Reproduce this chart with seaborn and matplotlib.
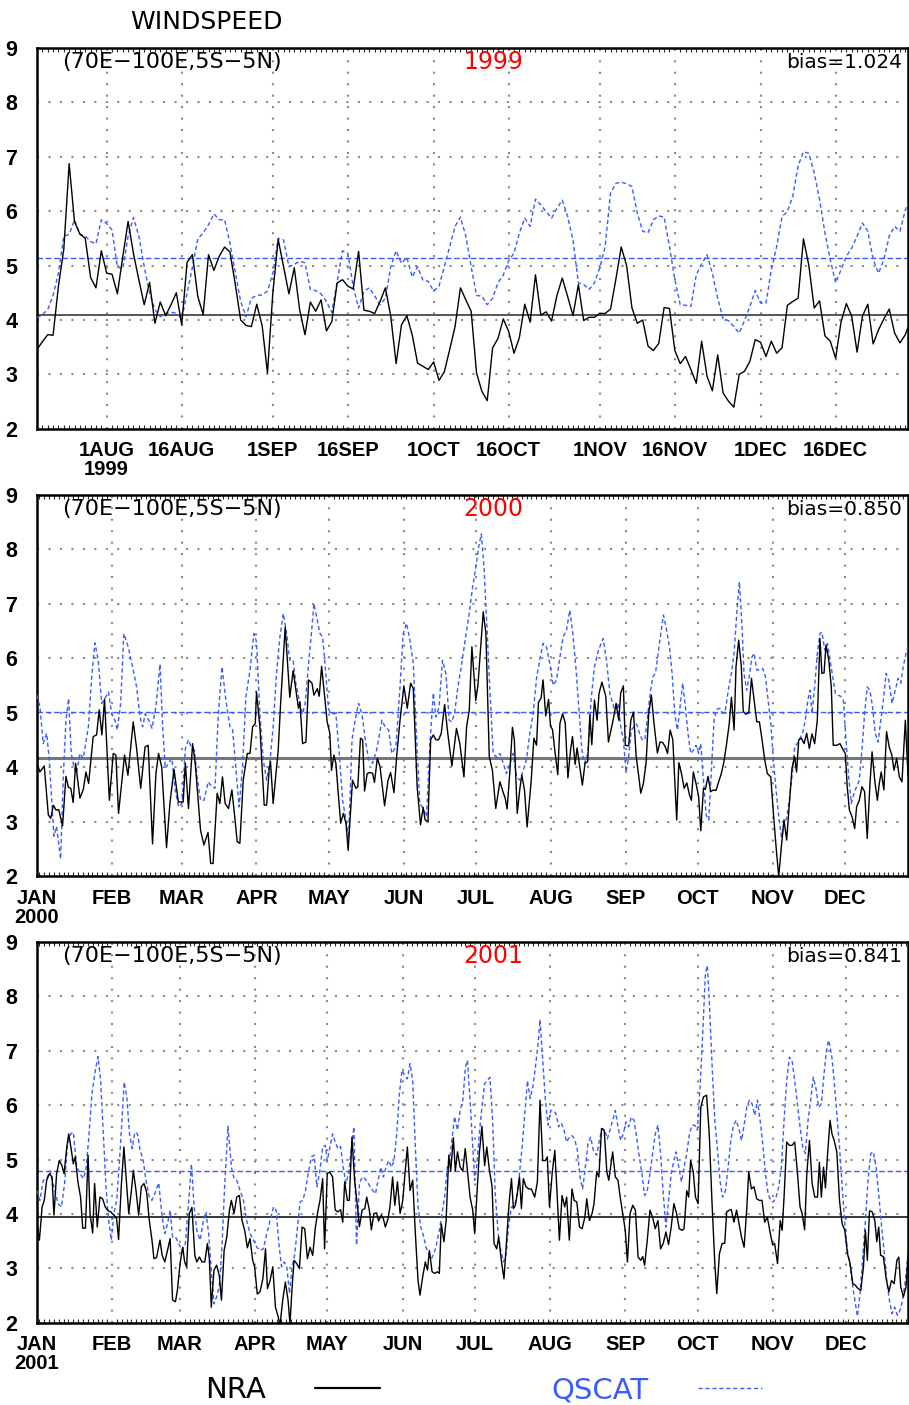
import matplotlib
matplotlib.use("Agg")
from matplotlib import pyplot as plt
from matplotlib import dates as mdates
from matplotlib import font_manager
import seaborn as sns
import pandas as pd

# ---- 1999 (daily from 19 Jul) ----
nra_1999 = [3.46, 3.60, 3.73, 3.72, 4.62, 5.30, 6.87, 5.80, 5.58, 5.50,
            4.78, 4.59, 5.27, 4.86, 4.84, 4.48, 5.16, 5.81, 5.22, 4.74,
            4.28, 4.69, 3.94, 4.33, 4.08, 4.28, 4.50, 3.91, 5.06, 5.20,
            4.43, 4.10, 5.20, 4.91, 5.17, 5.34, 5.25, 4.65, 4.00, 3.90,
            3.88, 4.29, 3.90, 3.03, 4.50, 5.48, 4.98, 4.48, 4.96, 4.19,
            3.73, 4.33, 4.16, 4.37, 3.80, 3.97, 4.68, 4.74, 4.62, 4.57,
            5.26, 4.18, 4.16, 4.12, 4.34, 4.59, 4.07, 3.20, 3.91, 4.08,
            3.73, 3.21, 3.15, 3.09, 3.23, 2.89, 3.05, 3.46, 3.88, 4.59,
            4.37, 4.16, 3.03, 2.69, 2.52, 3.49, 3.66, 4.02, 3.79, 3.39,
            3.68, 4.29, 3.96, 4.83, 4.09, 4.15, 3.98, 4.45, 4.77, 4.43,
            4.08, 4.65, 3.99, 4.05, 4.05, 4.12, 4.12, 4.20, 4.75, 5.34,
            5.00, 4.22, 3.94, 4.00, 3.52, 3.44, 3.57, 4.23, 4.21, 3.44,
            3.20, 3.33, 3.09, 2.84, 3.61, 2.97, 2.70, 3.36, 2.66, 2.51,
            2.40, 3.00, 3.06, 3.24, 3.64, 3.59, 3.33, 3.61, 3.39, 3.49,
            4.27, 4.34, 4.40, 5.49, 5.00, 4.22, 4.35, 3.71, 3.61, 3.30,
            3.96, 4.30, 4.07, 3.41, 4.07, 4.29, 3.56, 3.82, 4.02, 4.20,
            3.76, 3.58, 3.73, 4.00]
qscat_1999 = [4.04, 4.10, 4.19, 4.45, 4.86, 5.54, 5.57, 5.84, 5.57, 5.54,
              5.44, 5.40, 5.84, 5.77, 5.65, 4.97, 4.94, 5.54, 5.88, 5.54,
              4.98, 4.50, 4.19, 4.06, 4.12, 4.14, 4.13, 4.02, 4.50, 4.97,
              5.49, 5.60, 5.75, 5.95, 5.84, 5.84, 5.41, 4.87, 4.34, 4.06,
              4.40, 4.45, 4.46, 4.53, 4.86, 5.50, 5.47, 4.98, 5.02, 5.08,
              5.05, 4.56, 4.54, 4.48, 4.34, 4.14, 4.70, 5.27, 5.22, 4.61,
              4.22, 4.53, 4.59, 4.44, 4.28, 4.40, 4.98, 5.27, 5.04, 5.15,
              4.79, 4.98, 4.73, 4.71, 4.53, 4.62, 4.98, 5.35, 5.72, 5.89,
              5.54, 4.98, 4.45, 4.44, 4.28, 4.40, 4.68, 4.83, 5.08, 5.23,
              5.60, 5.87, 5.72, 6.22, 6.11, 5.99, 5.87, 6.05, 6.20, 5.90,
              5.47, 4.68, 4.65, 4.56, 4.68, 4.96, 5.35, 6.33, 6.51, 6.53,
              6.50, 6.45, 5.96, 5.63, 5.60, 5.84, 5.91, 5.89, 5.35, 4.74,
              4.28, 4.27, 4.25, 4.83, 5.03, 5.20, 4.86, 4.40, 4.02, 3.99,
              3.88, 3.76, 3.99, 4.25, 4.54, 4.31, 4.31, 4.92, 5.35, 5.90,
              5.99, 6.27, 6.83, 7.09, 7.06, 6.70, 6.21, 5.60, 5.11, 4.68,
              4.92, 5.17, 5.32, 5.54, 5.78, 5.63, 5.11, 4.86, 5.11, 5.54,
              5.72, 5.63, 6.02, 6.24]

# ---- 2000 (day of year, value) ----
nra_2000 = [(0,4.07),(1.2,3.91),(3,4.02),(4.7,3.12),(5.7,3.06),(6.8,3.30),(7.9,3.21),(9,3.22),(10.6,2.92),(12,3.83),
    (13,3.63),(14,3.61),(15,3.35),(16,4.07),(17.8,3.43),(19.2,3.59),(20.3,3.91),(21.4,3.70),(23.3,4.56),(24.7,4.59),
    (25.8,5.05),(26.9,4.59),(28,5.25),(30,3.39),(31.6,4.25),(32.7,4.22),(33.8,3.15),(36.3,4.22),(37.7,3.85),(39.9,4.83),
    (41.3,4.34),(43,3.61),(44.8,4.37),(46.1,4.40),(47.9,2.59),(49.3,3.88),(50.4,4.25),(51.7,4.0),(53.7,2.52),(55.1,3.33),
    (56.8,3.96),(58.6,3.36),(60.6,3.36),(61.5,4.07),(62.8,3.24),(64.5,4.43),(65.6,4.07),(67.8,2.84),(69.2,2.57),(70.9,2.80),
    (72,2.23),(73,2.23),(74.7,3.52),(75.8,3.33),(76.9,3.82),(78,3.33),(79.4,3.24),(80.8,3.58),(81.9,3.12),(83,2.63),
    (84.1,2.60),(85.5,3.76),(87.2,4.25),(88.3,4.25),(89.4,4.74),(90.5,4.80),(91,5.38),(92.4,4.74),(94.2,3.30),(95.2,3.30),
    (96.3,3.98),(96.8,4.10),(97.9,3.33),(100,4.31),(101,5.17),(102.9,6.57),(104.8,5.28),(106.2,5.77),(108.4,5.08),(109,5.2),
    (110.1,4.43),(111.5,4.46),(112.6,5.60),(114,5.54),(114.8,5.32),(116.2,5.44),(117,5.30),(118,5.85),(120.3,4.83),(121.4,4.62),
    (122.1,3.94),(123.1,4.22),(123.9,4.07),(125.9,2.97),(127,3.15),(128.1,2.97),(129,2.47),(130.8,3.76),(132.2,3.61),(133,3.64),
    (134.1,4.53),(135,4.50),(135.8,3.56),(136.9,3.88),(138,3.90),(139.1,3.89),(139.9,3.72),(141.1,4.16),(142.2,4.01),(144.1,3.29),
    (145.5,3.75),(146.6,3.90),(148,3.53),(149.1,4.19),(150.5,4.86),(152.1,5.49),(153.5,5.08),(154.9,5.54),(156,5.44),(157.6,3.64),
    (159,2.94),(160.1,3.26),(160.9,3.03),(162.1,3.00),(163.2,4.50),(164.3,4.59),(165.4,4.50),(166.5,4.50),(167.6,4.62),(169,5.15),
    (170.3,4.62),(172,4.02),(173.9,4.71),(175.3,4.43),(177,3.82),(178.1,4.74),(179.2,5.04),(180.3,6.21),(181.9,5.22),(182.8,5.50),
    (185,6.85),(186.1,6.46),(187.5,4.19),(188.8,3.94),(190.2,3.24),(191.9,3.73),(193.3,3.53),(194.1,3.43),(194.9,3.23),(196,3.89),
    (197.1,4.73),(197.9,4.50),(199.1,3.15),(200.2,3.61),(201,3.85),(202.1,3.58),(203.2,2.90),(204.9,3.76),(206,4.53),(207.1,4.40),
    (207.9,5.19),(209,5.27),(209.8,5.60),(210.9,4.94),(212.1,5.24),(212.9,4.75),(213.7,4.69),(214.8,4.26),(215.9,3.86),(216.8,4.80),
    (217.9,4.98),(219,4.81),(220.1,3.80),(221.2,4.31),(222,4.56),(223.1,4.05),(223.9,4.35),(225,4.01),(226.1,3.67),(227.2,4.07),
    (228.3,4.10),(229.2,4.96),(230,4.41),(231.1,5.23),(232.2,4.86),(233,5.35),(234.2,5.56),(235.8,5.30),(236.9,4.46),(238.7,4.83),
    (240.1,5.17),(241.2,4.86),(242,5.36),(243.1,5.49),(243.9,4.40),(245.3,4.39),(246.2,4.86),(247.3,5.01),(248.4,4.20),(249.5,3.82),
    (250.3,3.52),(251.4,3.70),(252.5,4.07),(253.6,4.98),(254.7,5.32),(255.8,4.80),(257.2,4.26),(258.3,4.46),(259.4,4.45),(260.5,4.37),
    (261.4,4.25),(262.5,4.68),(263.6,4.50),(265.2,3.03),(266.1,4.08),(267.2,3.88),(268.3,3.61),(269.4,3.71),(270.5,3.49),(271.3,3.39),
    (272.1,3.91),(273.2,3.70),(274.3,3.46),(275.2,2.83),(276.3,3.61),(277.1,3.59),(278.2,3.83),(279.3,3.55),(280.4,3.58),(281.5,3.57),
    (282.6,3.73),(283.7,3.88),(284.8,4.10),(285.9,4.43),(287,4.80),(287.9,5.28),(289,4.68),(289.8,5.84),(290.9,6.33),(292,5.84),
    (292.8,5.02),(293.9,4.97),(295.1,5.00),(296.2,5.63),(297.3,5.23),(298.4,4.83),(299.5,4.83),(300.6,4.50),(301.7,4.13),(302.8,3.88),
    (304.2,3.82),(305.3,3.15),(306.4,2.54),(307.5,1.99),(308.6,2.54),(309.7,3.03),(310.8,2.66),(311.9,3.33),(313,3.98),(314.1,4.19),
    (314.9,3.91),(315.8,4.50),(316.9,4.53),(318,4.43),(319.1,4.62),(320.2,4.34),(321.3,4.61),(322.4,4.43),(323.5,4.86),(324.6,6.36),
    (325.4,5.72),(326.3,5.73),(327.1,6.24),(328.2,5.99),(329.3,5.47),(330.1,4.40),(331.5,4.40),(332.9,4.43),(334.3,4.31),(335.1,4.25),
    (335.9,3.64),(336.8,3.21),(337.9,3.09),(339,2.87),(339.8,3.27),(340.9,3.39),(342,3.64),(343.1,3.55),(344.2,2.69),(345.3,3.67),
    (346.2,4.28),(347.3,3.76),(348.4,3.39),(349.2,3.70),(350,3.91),(351.1,3.58),(352.2,4.65),(353.3,4.37),(354.4,4.22),(355.3,3.94),
    (356.4,4.16),(357.5,3.82),(358.6,3.73),(360,4.86),(361.1,3.85),(361.5,3.88)]
qscat_2000 = [(0,5.32),(1.2,5.11),(2.6,4.43),(4,4.62),(5.1,4.13),(7,2.73),(8.1,2.91),(9.8,2.31),(10.9,3.82),(12,4.86),
    (13.1,5.26),(14.2,4.25),(15.3,4.01),(16.4,3.88),(17.8,4.25),(19.2,4.16),(21.3,4.74),(22.7,5.66),(24,6.28),(25.4,5.96),
    (26.8,5.17),(28.2,5.26),(29.6,5.38),(31,4.98),(32.3,4.86),(33.3,4.68),(34.7,5.17),(36,6.45),(37.8,6.21),(39.9,5.78),
    (41.3,5.47),(42.7,4.92),(43.8,4.74),(44.9,4.98),(46.3,4.86),(47.7,4.71),(49.3,5.11),(51,5.89),(52.1,4.74),(53.2,3.98),
    (54.6,4.07),(55.9,4.16),(57.3,3.58),(58.7,3.27),(60.1,3.33),(61.5,4.34),(62.8,4.50),(63.9,4.37),(65.3,4.31),(66.4,3.82),
    (67.8,3.39),(69.2,3.39),(71,3.73),(72.4,3.64),(73.8,3.61),(75.1,4.92),(76.7,5.84),(78.3,5.23),(80,4.74),(81.1,4.68),
    (82.5,3.94),(83.8,3.27),(85.2,4.01),(86.6,5.29),(88.3,5.78),(89.9,6.45),(91,6.30),(92.4,4.98),(93.8,4.13),(95.2,3.76),
    (96.5,4.07),(97.9,4.74),(99.3,5.72),(100.7,6.39),(102.1,6.82),(103.5,6.45),(104.8,5.96),(106.2,5.96),(107.3,5.54),(108.7,5.23),
    (110.1,4.98),(111.2,5.17),(112.6,5.90),(114,6.57),(114.8,7.00),(116.2,6.70),(117.3,6.45),(118.4,6.39),(119.5,5.84),(120.9,5.05),
    (122.3,4.98),(123.9,4.98),(125.3,4.25),(126.7,3.39),(128.1,3.03),(129.2,2.69),(130.6,4.50),(131.9,4.86),(133.3,5.17),(134.7,4.98),
    (136.1,4.50),(137.5,4.13),(139.1,4.07),(140.8,4.31),(143,4.86),(144.4,4.73),(145.8,4.68),(147.1,4.25),(148.8,4.37),(150.5,5.47),
    (151.8,6.45),(153.2,6.64),(154.6,6.33),(156,5.90),(157.4,4.50),(158.7,3.33),(160.1,3.24),(161.5,3.09),(162.9,4.43),(164.3,5.36),
    (165.4,4.92),(166.7,5.11),(168.1,5.96),(169.5,5.72),(170.9,4.86),(172,4.83),(173.1,4.98),(174.5,5.47),(175.9,5.84),(177.5,6.33),
    (179.2,6.82),(180.6,7.31),(181.9,7.65),(183.1,8.04),(184.2,8.28),(185.3,7.68),(186.4,6.70),(187.7,5.47),(189.1,4.25),(190.5,4.18),
    (191.9,4.25),(193.3,4.07),(194.6,3.88),(196,4.04),(197.4,4.25),(198.8,3.82),(200.2,3.76),(201.6,3.94),(202.9,4.13),(204.3,4.62),
    (205.7,4.98),(207.1,5.63),(208.5,5.99),(209.8,6.27),(211.2,6.21),(212.6,5.90),(214,5.50),(215.4,5.60),(216.7,5.99),(218.1,6.39),
    (219.5,6.51),(220.9,6.88),(222.3,6.39),(223.6,5.72),(224.8,4.98),(225.9,4.31),(227,4.07),(228.4,4.25),(229.7,5.23),(231.1,5.84),
    (232.8,6.15),(234.7,6.36),(236.1,5.96),(237.5,5.35),(238.7,5.17),(239.8,4.98),(240.9,5.17),(242,4.74),(243.1,4.50),(244.2,3.91),
    (245.3,4.19),(246.4,4.68),(247.5,4.74),(248.6,4.79),(249.8,4.62),(250.9,4.50),(252,4.50),(253.1,4.92),(254.2,5.35),(255.3,5.66),
    (256.4,5.72),(257.5,6.09),(258.6,6.45),(259.7,6.79),(260.8,6.57),(262.2,6.21),(263.3,5.72),(264.4,4.98),(265.5,4.68),(266.6,5.11),
    (267.7,5.54),(268.8,5.11),(269.9,4.62),(271,4.25),(272.1,4.31),(273.2,4.40),(274.3,4.25),(275.2,4.43),(276.3,3.76),(277.4,3.12),
    (278.5,3.03),(279.6,3.94),(280.7,4.86),(281.8,5.06),(283.2,5.08),(284.3,4.98),(285.4,5.05),(286.8,5.47),(287.9,5.72),(289,6.09),
    (290.1,6.82),(291.2,7.40),(292.3,6.57),(293.1,5.72),(294.2,5.41),(295.3,5.66),(296.4,6.02),(297.3,6.09),(298.4,5.78),(299.8,5.79),
    (300.9,5.81),(302,5.66),(303.1,5.23),(304.2,4.80),(305.3,4.13),(306.4,3.58),(307.5,3.09),(308.6,2.72),(309.7,2.97),(310.8,3.06),
    (311.9,3.39),(313,3.82),(314.1,4.37),(315.2,4.43),(316.3,4.53),(317.4,4.62),(318.5,4.86),(319.6,5.23),(320.5,5.41),(321.3,4.98),
    (322.4,5.47),(323.5,6.09),(324.6,6.45),(325.4,6.48),(326.6,6.15),(327.7,6.27),(328.8,5.96),(329.9,5.66),(331,5.35),(332.1,5.32),
    (333.2,5.30),(334.3,5.23),(335.4,4.50),(336.5,3.82),(337.6,3.33),(338.7,3.52),(339.8,3.64),(340.9,3.76),(342,4.31),(343.1,4.98),
    (344.2,5.47),(345.3,5.41),(346.4,5.11),(347.5,4.62),(348.7,4.46),(349.8,4.86),(350.9,5.23),(352,5.72),(353.1,5.60),(354.5,5.17),
    (355.8,5.41),(357,5.63),(358.1,5.54),(359.1,5.84),(360.3,6.09),(361.5,6.27)]

# ---- 2001 (day of year, value) ----
nra_2001 = [(0,3.82),(1,3.52),(2.1,4.13),(3,4.25),(4,4.62),(5.1,4.74),(6.2,4.68),(7,3.98),(8.1,4.74),(9.2,4.98),
    (10.3,4.89),(11.2,4.74),(12.3,5.23),(13.1,5.47),(14.2,5.17),(15,4.92),(15.8,5.05),(16.9,4.59),(18,4.31),(18.9,3.74),
    (20,3.74),(21.1,5.08),(21.9,4.01),(23,3.65),(23.8,4.56),(24.9,3.76),(26,4.31),(27.1,4.28),(28.2,4.13),(29.3,4.06),
    (30.4,4.04),(31.8,3.98),(32.9,3.91),(33.7,3.53),(34.8,4.50),(35.9,5.23),(37.1,4.50),(37.9,4.01),(39,4.43),(39.8,4.80),
    (40.9,4.43),(42,3.98),(43.1,4.50),(44.2,4.56),(45.3,4.40),(46.4,3.88),(47.5,3.52),(48.3,3.18),(49.4,3.20),(50.8,3.52),
    (51.7,3.24),(52.8,3.12),(53.9,3.33),(55,3.55),(56,2.42),(57.2,2.39),(58,2.60),(59.1,3.09),(60.2,3.39),(61,3.12),
    (61.8,3.03),(62.9,4.01),(64,4.12),(65.2,3.24),(66,3.12),(67.1,3.21),(68.2,3.12),(69.3,3.12),(70.4,3.46),(71.2,3.18),
    (72,2.29),(73.1,2.97),(74.2,3.06),(75.3,2.87),(76.2,2.42),(77.3,3.33),(78.4,3.58),(79.5,4.07),(80.3,4.25),(81.4,4.01),
    (82.5,4.31),(83.6,4.34),(84.7,3.88),(85.8,3.70),(86.9,3.38),(88,3.55),(89.1,3.15),(89.9,3.03),(91,2.53),(92.1,2.57),
    (93.3,2.81),(94.4,3.36),(95.2,2.63),(96.3,2.78),(97.4,3.03),(98.5,2.29),(99.6,2.12),(100.4,1.96),(101.5,2.42),(102.6,2.75),
    (103.7,2.42),(104.5,1.99),(105.4,2.66),(106.2,3.15),(107.3,3.09),(108.4,3.00),(109.5,3.76),(110.6,3.73),(111.7,3.18),(112.8,3.39),
    (113.9,3.24),(115,3.76),(116.1,4.07),(116.9,4.25),(118,4.65),(118.8,3.36),(119.9,4.74),(121,4.77),(122.1,4.68),(123.2,4.07),
    (124.3,4.04),(125.4,4.08),(126.3,3.85),(127.1,4.59),(128.2,4.25),(129,4.25),(130.1,5.41),(131.2,4.62),(132.1,4.25),(133.2,3.77),
    (134.3,4.07),(135.4,4.10),(136.2,4.31),(137.3,4.07),(138.1,3.71),(139.2,4.01),(140.3,4.02),(141.1,3.87),(142.2,3.98),(143.1,3.91),
    (143.9,3.76),(145,3.91),(145.8,4.13),(146.9,4.68),(147.8,4.16),(148.9,4.59),(150,4.01),(151.1,4.25),(151.9,4.68),(153,5.23),
    (154.1,4.43),(155.2,4.62),(156.3,3.64),(157.4,2.78),(158.2,2.51),(159.3,2.84),(160.4,3.12),(161.3,2.97),(162.1,3.33),(163.2,2.94),
    (164.3,2.91),(165.4,2.94),(166.2,2.91),(167,3.82),(168.1,3.49),(169,3.88),(170.1,5.08),(170.9,4.79),(172,5.40),(172.8,4.79),
    (173.7,5.14),(174.8,4.86),(175.9,4.79),(176.9,5.20),(177.8,4.80),(178.9,4.31),(180,4.07),(180.8,3.64),(181.6,4.25),(182.7,5.11),
    (183.8,5.61),(184.9,4.89),(185.8,5.23),(186.9,4.80),(188,4.50),(188.8,3.46),(189.9,3.36),(190.7,3.58),(191.8,3.15),(192.9,2.81),
    (194,3.52),(195.1,4.25),(196,4.65),(196.8,4.10),(197.6,4.16),(198.4,4.37),(199.3,4.68),(200.1,4.10),(200.9,4.65),(202,4.50),
    (203.1,4.46),(204.2,4.46),(205.6,4.31),(206.7,4.59),(207.8,6.09),(208.9,4.98),(210,4.98),(210.8,5.05),(211.7,4.13),(212.8,4.74),
    (213.9,5.17),(214.7,4.50),(215.8,3.52),(216.9,4.34),(218,4.13),(218.8,4.31),(219.9,3.52),(221,4.46),(221.9,4.25),(223,4.22),
    (224.1,3.76),(225.2,3.73),(226.3,3.94),(227.1,4.28),(228.2,3.88),(229.3,4.01),(230.1,4.19),(231.2,4.77),(232.1,4.68),(233.2,5.57),
    (234.3,5.54),(235.4,4.77),(236.2,4.62),(237.8,5.14),(238.9,4.68),(240,4.62),(241.1,4.25),(242.2,3.94),(243,3.70),(243.9,3.12),
    (245,4.01),(246.1,4.16),(247.2,4.07),(248.3,3.21),(249.4,3.15),(250.2,3.22),(251,3.06),(252.1,3.52),(253.2,4.07),(254.3,3.94),
    (255.4,3.73),(256.5,3.88),(257.6,3.36),(258.7,3.46),(259.8,3.67),(260.9,3.44),(262,3.77),(263.1,4.19),(264.2,4.01),(265.3,3.73),
    (266.5,3.70),(267.3,3.73),(268.4,4.43),(269.2,4.31),(270,4.98),(271.1,4.77),(272,4.31),(273.1,4.19),(274.2,5.96),(275.3,6.15),
    (276.6,6.18),(277.7,5.47),(278.8,4.25),(280,3.09),(280.8,2.54),(281.9,3.27),(283,3.46),(284.1,3.46),(284.9,4.04),(286,4.07),
    (286.8,4.08),(287.9,3.85),(289,4.07),(289.9,3.85),(291,3.58),(292.1,3.39),(293.2,4.10),(294,4.77),(295.1,4.46),(296.2,4.50),
    (297.3,4.28),(298.4,4.25),(299.5,4.25),(300.6,3.85),(301.7,3.94),(302.8,3.67),(303.9,3.43),(304.7,3.46),(305.9,3.09),(307,3.88),
    (307.8,3.70),(308.6,4.31),(309.7,5.32),(310.8,5.26),(311.9,5.26),(313,5.32),(314.1,4.77),(315.2,4.13),(316,4.02),(317.1,3.71),
    (318,4.74),(319.1,5.35),(320.2,4.56),(321.3,4.31),(322.4,4.31),(323.2,4.95),(324,4.31),(324.9,4.86),(325.7,4.48),(326.5,5.05),
    (327.6,5.72),(328.4,5.47),(329.3,5.35),(330.4,5.14),(331.5,4.25),(332.6,3.82),(333.7,3.70),(334.8,3.27),(335.9,3.09),(337,2.72),
    (338.1,2.69),(339.2,2.63),(340.3,2.60),(341.4,3.03),(342.2,3.70),(343,3.15),(343.9,4.06),(345,4.04),(346.1,3.88),(346.9,3.49),
    (347.7,3.76),(348.5,3.24),(349.6,3.22),(350.8,2.81),(351.9,2.57),(353,2.78),(354.1,2.72),(355.2,3.15),(356,3.21),(356.8,2.66),
    (357.9,2.48),(359,2.66),(360.2,3.49)]
qscat_2001 = [(0,4.43),(1.2,4.25),(2.6,4.62),(4,4.65),(5.4,4.79),(7,4.50),(8.7,4.19),(10.1,4.13),(11.4,4.56),(12.5,5.23),
    (13.9,5.47),(15,5.50),(16.4,4.86),(17.8,4.74),(19.1,4.65),(20.2,4.80),(21.3,5.35),(22.7,6.21),(24.1,6.64),(25.2,6.89),
    (26.3,6.45),(27.4,5.47),(28.5,4.50),(29.6,3.88),(30.7,3.52),(31.8,4.01),(32.9,4.25),(34,4.92),(35.1,5.72),(36,6.42),
    (37.1,6.15),(38.2,5.47),(39.3,5.20),(40.4,5.50),(41.5,5.47),(42.6,5.17),(43.9,4.98),(45,4.62),(46.4,4.31),(47.5,4.25),
    (48.9,4.40),(50.3,4.57),(51.7,3.94),(52.8,3.64),(53.9,3.82),(55,4.07),(56,3.58),(57.2,3.58),(58.5,3.46),(59.9,3.33),
    (61.3,3.46),(62.7,4.25),(63.8,4.92),(64.9,4.13),(66,3.70),(67.4,3.52),(68.7,3.88),(69.8,4.04),(70.9,3.64),(72,2.97),
    (73.1,2.35),(74.2,2.48),(75.3,2.66),(76.4,3.39),(77.5,4.50),(78.9,5.61),(80.3,4.86),(81.4,4.65),(82.5,4.62),(83.9,4.43),
    (85.3,4.25),(86.6,3.88),(88,3.64),(89.4,3.52),(90.8,3.39),(92.1,3.33),(93.5,3.36),(94.9,3.64),(96.3,3.88),(97.7,4.13),
    (98.8,4.07),(99.9,3.46),(101,3.03),(102.1,3.12),(103.2,3.03),(104.3,2.54),(105.4,3.03),(106.5,3.27),(107.6,3.76),(108.7,4.22),
    (109.8,4.25),(110.9,4.43),(112,4.74),(113.4,5.05),(114.5,5.08),(115.6,4.50),(116.7,4.74),(118,5.23),(119.1,5.26),(119.9,4.98),
    (121,5.23),(122.1,5.47),(123.2,5.32),(124.3,5.20),(125.4,5.24),(126.5,4.86),(127.6,4.56),(128.7,4.74),(129.8,5.17),(130.9,5.60),
    (132,3.43),(133.2,4.56),(134.3,4.68),(135.4,4.65),(136.5,4.59),(137.6,4.50),(138.7,4.43),(139.8,4.37),(140.9,4.62),(142,4.86),
    (143.1,4.68),(144.2,4.86),(145.3,4.98),(146.4,4.86),(147.5,4.98),(148.6,5.47),(149.7,6.21),(150.8,6.64),(151.9,6.54),(153,6.48),
    (154.1,6.76),(155.2,6.45),(156.3,5.23),(157.4,4.13),(158.5,3.76),(159.6,3.61),(160.7,3.39),(161.8,3.27),(162.9,3.18),(164,3.27),
    (165.1,3.46),(166.2,3.70),(167.3,4.01),(168.4,4.31),(169.5,4.86),(170.6,5.05),(171.7,5.47),(172.5,5.79),(173.7,5.54),(174.8,5.90),
    (175.9,6.09),(177,6.70),(177.8,6.82),(178.9,6.09),(180,5.23),(180.8,4.62),(181.6,4.86),(182.7,5.47),(183.8,5.96),(184.9,6.39),
    (186,6.45),(187.1,6.51),(188.2,5.72),(189.3,4.37),(190.5,3.64),(191.6,3.33),(192.7,3.12),(193.8,3.27),(194.9,3.82),(196,4.13),
    (197.1,4.13),(198.2,4.31),(199.3,4.74),(200.4,5.23),(201.5,5.84),(202.6,6.45),(203.7,6.12),(204.8,6.33),(205.9,6.70),(207,7.13),
    (207.8,7.57),(208.9,6.82),(210,6.09),(211.1,5.63),(212.2,5.90),(213.3,5.90),(214.4,5.84),(215.5,5.60),(216.6,5.67),(217.7,5.54),
    (218.8,5.32),(219.9,5.41),(221,5.44),(222.1,5.38),(223.2,5.17),(224.3,4.68),(225.4,4.46),(226.5,4.86),(227.6,5.29),(228.7,5.41),
    (229.8,5.17),(231.2,5.08),(232.3,5.35),(233.4,5.57),(234.5,5.54),(235.6,5.38),(236.7,5.54),(237.8,5.72),(238.9,5.90),(240,5.60),
    (241.1,5.35),(242.2,5.47),(243.3,5.69),(244.4,5.60),(245.5,5.78),(246.6,5.72),(247.7,5.41),(248.8,5.05),(249.9,4.74),(251,4.34),
    (252.1,4.43),(253.2,4.74),(254.3,5.11),(255.4,5.47),(256.5,5.63),(257.6,5.11),(258.7,4.37),(259.8,3.76),(260.9,4.25),(262,4.74),
    (263.1,4.98),(264,5.14),(265.1,4.86),(266.2,4.59),(267.3,4.86),(268.4,5.11),(269.5,5.47),(270.6,5.63),(271.7,5.63),(272.8,5.54),
    (273.9,6.33),(275,7.31),(276.1,8.41),(276.9,8.56),(277.7,7.92),(278.9,6.70),(280,5.72),(281.1,5.17),(282.1,4.62),(283.2,4.31),
    (284.4,4.43),(285.5,4.86),(286.6,5.35),(287.7,5.63),(288.8,5.72),(289.9,5.57),(291,5.35),(292.1,5.63),(293.2,5.96),(294.3,6.09),
    (295.4,6.02),(296.5,5.81),(297.6,6.09),(298.7,5.72),(299.8,5.29),(300.9,4.74),(302,4.37),(303.1,4.25),(304.2,4.22),(305.3,4.31),
    (306.4,4.50),(307.5,4.86),(308.6,5.72),(309.7,6.45),(310.8,6.88),(311.9,6.82),(313,6.45),(314.1,6.02),(315.2,5.60),(316.3,5.23),
    (317.4,5.11),(318.5,5.72),(319.6,6.09),(320.7,6.51),(321.8,6.30),(322.9,5.96),(324,6.02),(325.1,6.57),(326.2,7.03),(327,7.19),
    (328.2,6.94),(329.3,6.45),(330.4,5.84),(331.5,5.23),(332.6,4.50),(333.8,3.76),(334.8,3.33),(335.9,3.03),(337,2.66),(338.1,2.35),
    (338.9,2.12),(340,2.54),(341.1,3.21),(342.2,3.88),(343.3,4.62),(344.4,5.11),(345.5,5.14),(346.6,4.86),(347.7,4.37),(348.8,3.82),
    (349.9,3.33),(351,2.78),(352.1,2.42),(353.2,2.17),(354.3,2.29),(355.4,2.14),(356.5,2.23),(357.6,2.42),(358.7,2.78),(359.8,3.27),
    (360.2,3.49)]

# 期間平均とバイアス
years = ["1999", "2000", "2001"]
nra_mean = [4.10, 4.16, 3.95]
qscat_mean = [5.13, 5.01, 4.79]
bias_text = ["bias=1.024", "bias=0.850", "bias=0.841"]
region = "(70E\u2212100E,5S\u22125N)"

month_labels = ["JAN", "FEB", "MAR", "APR", "MAY", "JUN",
                "JUL", "AUG", "SEP", "OCT", "NOV", "DEC"]
labels_1999 = ["1AUG", "16AUG", "1SEP", "16SEP", "1OCT", "16OCT",
               "1NOV", "16NOV", "1DEC", "16DEC"]

BLUE = "#3a5cff"
RED = "#ff0000"

sns.set_theme(style="white")
plt.rcParams["font.family"] = ["DejaVu Sans"]
plt.rcParams["text.color"] = "black"
names = {f.name for f in font_manager.fontManager.ttflist}
if "Liberation Sans Narrow" in names:
    TICKFONT, TICKSIZE = "Liberation Sans Narrow", 16
else:
    TICKFONT, TICKSIZE = "Liberation Sans", 14.5


def to_frame(start, pairs):
    d = pd.DataFrame(pairs, columns=["day", "val"])
    d["date"] = pd.Timestamp(start) + pd.to_timedelta(d["day"], unit="D")
    return d


df1_nra = pd.DataFrame({"date": pd.date_range("1999-07-19", periods=len(nra_1999), freq="D"), "val": nra_1999})
df1_qs = pd.DataFrame({"date": pd.date_range("1999-07-19", periods=len(qscat_1999), freq="D"), "val": qscat_1999})

panels = [
    dict(nra=df1_nra, qs=df1_qs, start="1999-07-19", span=162.5,
         ticks=pd.date_range("1999-08-01", periods=10, freq="SMS"), labels=labels_1999,
         minor=1, mean_color="#555555", mean_lw=1.4),
    dict(nra=to_frame("2000-01-01", nra_2000), qs=to_frame("2000-01-01", qscat_2000),
         start="2000-01-01", span=361.1,
         ticks=pd.date_range("2000-01-01", periods=12, freq="MS"), labels=month_labels,
         minor=2, mean_color="#777777", mean_lw=2.2),
    dict(nra=to_frame("2001-01-01", nra_2001), qs=to_frame("2001-01-01", qscat_2001),
         start="2001-01-01", span=359.8,
         ticks=pd.date_range("2001-01-01", periods=12, freq="MS"), labels=month_labels,
         minor=2, mean_color="black", mean_lw=1.1),
]

fig = plt.figure(figsize=(9.09, 14.05), dpi=100)
bottoms = [0.6947, 0.3765, 0.0584]

for i, p in enumerate(panels):
    ax = fig.add_axes([0.0407, bottoms[i], 0.9582, 0.2714])
    sns.lineplot(data=p["nra"], x="date", y="val", ax=ax, color="black",
                 linewidth=1.0, estimator=None, sort=False, zorder=4)
    sns.lineplot(data=p["qs"], x="date", y="val", ax=ax, color=BLUE,
                 linewidth=1.0, linestyle=(0, (3, 2)), estimator=None, sort=False, zorder=3)
    nra_line, qs_line = ax.lines[0], ax.lines[1]
    ax.axhline(nra_mean[i], color=p["mean_color"], lw=p["mean_lw"], zorder=2)
    ax.axhline(qscat_mean[i], color=BLUE, lw=1.0, linestyle=(0, (4, 2)), zorder=2)

    x0 = pd.Timestamp(p["start"])
    ax.set_xlim(x0, x0 + pd.Timedelta(days=p["span"]))
    ax.set_ylim(2, 9)
    ax.set_xlabel("")
    ax.set_ylabel("")

    ax.set_xticks(mdates.date2num(p["ticks"]))
    labs = list(p["labels"])
    labs[0] = labs[0] + "\n" + years[i]
    ax.set_xticklabels(labs, fontfamily=TICKFONT, fontweight="bold",
                       fontsize=TICKSIZE, linespacing=1.0)
    ax.xaxis.set_minor_locator(mdates.DayLocator(interval=p["minor"]))
    ax.set_yticks(range(2, 10))
    ax.set_yticklabels([str(v) for v in range(2, 10)], fontfamily=TICKFONT,
                       fontweight="bold", fontsize=TICKSIZE + 1)

    ax.tick_params(axis="x", which="major", direction="out", length=7, width=2,
                   pad=2, colors="black")
    ax.tick_params(axis="x", which="minor", direction="in", length=3, width=0.8,
                   top=True, bottom=True)
    ax.tick_params(axis="y", which="major", direction="out", length=6, width=1.5,
                   pad=8, colors="black")

    ax.grid(True, which="major", color="#8a8a8a", linestyle=(0, (1, 4.5)), lw=1.5)
    ax.grid(False, which="minor")
    for s in ax.spines.values():
        s.set_visible(True)
        s.set_color("black")
        s.set_linewidth(1.8)

    ax.text(0.0287, 0.962, region, transform=ax.transAxes, ha="left",
            va="center", fontsize=16, color="black")
    ax.text(0.5235, 0.962, years[i], transform=ax.transAxes, ha="center",
            va="center", fontsize=17, color=RED)
    ax.text(0.993, 0.962, bias_text[i], transform=ax.transAxes, ha="right",
            va="center", fontsize=14.5, color="black")

fig.text(130 / 909, 1 - 22 / 1405, "WINDSPEED", ha="left", va="center",
         fontsize=18, color="black")

leg = fig.legend(handles=[nra_line, qs_line], labels=["NRA", "QSCAT"],
                 loc="center left", bbox_to_anchor=(205 / 909, 1 - 1390 / 1405),
                 ncol=2, markerfirst=False, frameon=False, fontsize=21,
                 handlelength=2.2, handletextpad=1.7, columnspacing=5.9,
                 labelcolor="linecolor", borderpad=0, borderaxespad=0)
leg.legend_handles[0].set_linewidth(1.6)

fig.savefig("out.png", dpi=100)
